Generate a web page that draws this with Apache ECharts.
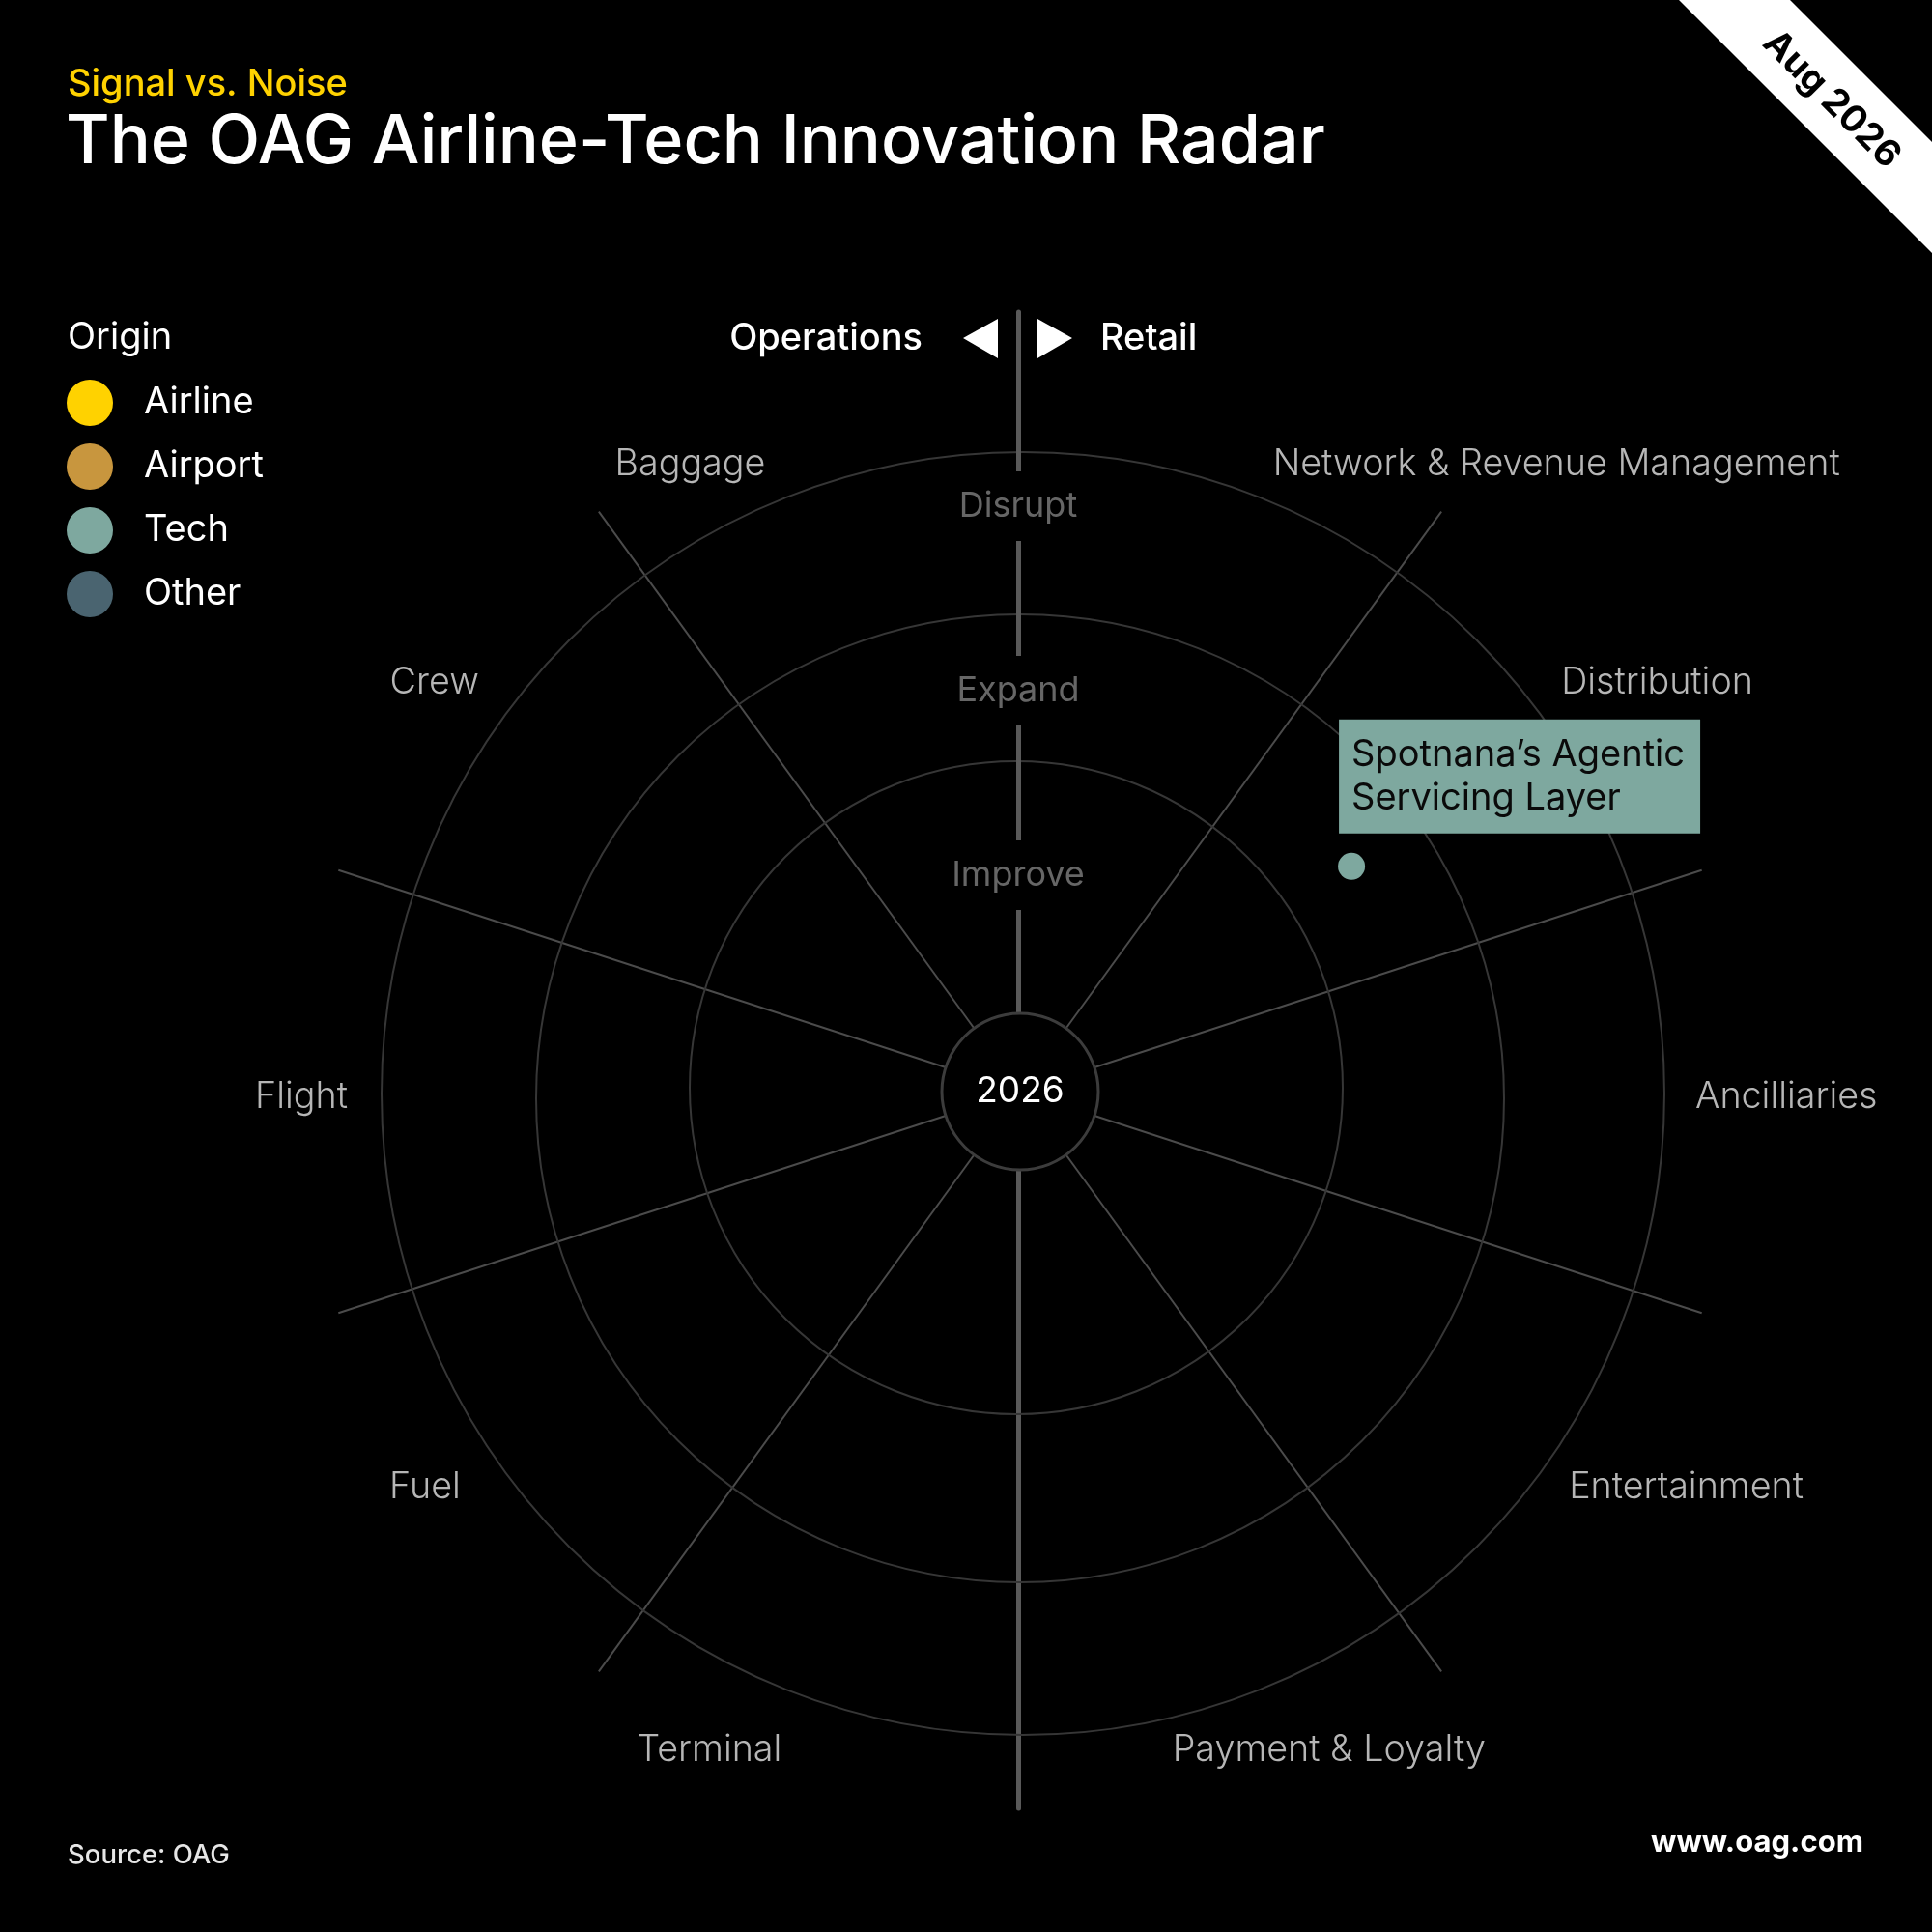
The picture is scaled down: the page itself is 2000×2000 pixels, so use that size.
<!DOCTYPE html>
<html><head><meta charset="utf-8">
<script src="https://cdn.jsdelivr.net/npm/echarts@6/dist/echarts.min.js"></script>
<style>html,body{margin:0;padding:0;background:#000;}#chart{width:2000px;height:2000px;}</style>
</head><body><div id="chart"></div>
<script>
// ---------- data ----------
const categories = ['Network & Revenue Management','Distribution','Ancilliaries','Entertainment','Payment & Loyalty','Terminal','Fuel','Flight','Crew','Baggage'];
const stageLabels = ['Improve','Expand','Disrupt'];
const origins = ['Airline','Airport','Tech','Other'];
const itemNames = ['Spotnana’s Agentic\nServicing Layer'];
const itemOrigins = ['Tech'];
const itemSectors = ['Distribution'];
const itemSectorOffsets = [0.05];
const itemRadialPositions = [50.5];
const centerYear = '2026';

// ---------- layout / style ----------
const FONT = 'Inter';
const LIGHT_FONT = "'Inter Light', Inter";
const CX = 1056, CY = 1130;
const LX = 1054;
const R_IN = 81, R_OUT = 742;
const rings = [{c:[1052,1126], r:338}, {c:[1056,1137], r:501}, {c:[1059,1132], r:664}];
const originColors = {Airline:'#FFD200', Airport:'#C8963E', Tech:'#7EA89F', Other:'#4A6470'};
const labelPad = {
  'Network & Revenue Management': [0,0,-65,37],
  'Distribution': [0,0,-27,-28],
  'Ancilliaries': [0,0,0,-28],
  'Entertainment': [-41,0,0,-20],
  'Payment & Loyalty': [-33,0,0,-67],
  'Terminal': [-33,22,0,0],
  'Fuel': [-41,-9,0,0],
  'Flight': [0,-31,0,0],
  'Crew': [0,-28,-27,0],
  'Baggage': [0,39,-65,0]
};
const middleLabels = ['Ancilliaries','Flight'];
const sectorDeg = 360 / categories.length;
const catLabelStyle = {color:'#b6b6b6', fontFamily:LIGHT_FONT, fontSize:37.7, fontWeight:300, lineHeight:46};

const chart = echarts.init(document.getElementById('chart'));

const polar = [
  {center:[CX,CY], radius:[R_IN,R_OUT]},                 // 0 sectors
  ...rings.map(g => ({center:g.c, radius:[0,g.r]})),    // 1..3 rings
  {center:[LX,CY], radius:[33,807]},                    // 4 stage line up
  {center:[LX,CY], radius:[33,742]},                    // 5 line down
  {center:[CX,CY], radius:[R_IN,R_OUT]}                 // 6 items
];

const angleAxis = [
  {
    polarIndex:0, type:'category', startAngle:90, clockwise:true, boundaryGap:true,
    data: categories.map(c => ({value:c, textStyle:{padding:labelPad[c]}})),
    axisLine:{show:false}, axisTick:{show:false, interval:0},
    splitLine:{show:true, interval:0, lineStyle:{width:2, color: categories.map((c,i) => (i===0||i===5) ? 'rgba(0,0,0,0)' : '#4b4b4b')}},
    axisLabel:Object.assign({
      show:true, interval:0, margin:-15,
      formatter: v => middleLabels.indexOf(v) >= 0 ? '{m|' + v + '}' : v,
      rich:{m:Object.assign({padding:[12,0,0,0]}, catLabelStyle)}
    }, catLabelStyle)
  },
  ...rings.map((g,i) => ({
    polarIndex:i+1, type:'value', min:0, max:1, startAngle:90,
    axisLine:{show:true, lineStyle:{color:'#363636', width:2}},
    axisTick:{show:false}, axisLabel:{show:false}, splitLine:{show:false}
  })),
  {polarIndex:4, type:'value', min:0, max:1, startAngle:90, show:false},
  {polarIndex:5, type:'value', min:0, max:1, startAngle:-90, show:false},
  {polarIndex:6, type:'value', min:0, max:360, startAngle:90, clockwise:true, show:false}
];

const radiusAxis = [
  {polarIndex:0, type:'value', min:0, max:100, show:false},
  ...rings.map((g,i) => ({polarIndex:i+1, type:'value', min:0, max:1, show:false})),
  {
    polarIndex:4, type:'value', min:0, max:4.052, interval:1, z:3,
    axisLine:{show:true, lineStyle:{color:'#595959', width:5}},
    axisTick:{show:false}, splitLine:{show:false},
    axisLabel:{
      show:true, margin:0, rotate:0, align:'center', verticalAlign:'middle',
      showMinLabel:false, showMaxLabel:false,
      formatter: v => { const s = stageLabels[Math.round(v)-1]; return (Math.abs(v-Math.round(v))<1e-6 && s) ? '{s|'+s+'}' : ''; },
      rich:{s:{color:'#666666', fontFamily:FONT, fontSize:36, lineHeight:36, backgroundColor:'#000', padding:[18,12,18,12]}}
    }
  },
  {
    polarIndex:5, type:'value', min:0, max:1,
    axisLine:{show:true, lineStyle:{color:'#595959', width:5}},
    axisTick:{show:false}, splitLine:{show:false}, axisLabel:{show:false}
  },
  {polarIndex:6, type:'value', min:0, max:100, show:false}
];

const itemSeries = origins.map(o => ({
  name:o, type:'scatter', coordinateSystem:'polar', polarIndex:6,
  symbol:'circle', symbolSize:28, silent:true, z:10,
  itemStyle:{color:originColors[o], opacity:1},
  data: itemNames.map((n,i) => ({n,i})).filter(d => itemOrigins[d.i]===o).map(d => ({
    name:d.n,
    value:[itemRadialPositions[d.i], (categories.indexOf(itemSectors[d.i]) + 0.5 + itemSectorOffsets[d.i]) * sectorDeg]
  })),
  label:{
    show:true, formatter: p => p.name, position:[1,-20], align:'left', verticalAlign:'bottom',
    backgroundColor:originColors[o], color:'#0a0a0a', fontFamily:FONT, fontSize:38, lineHeight:45,
    width:348, overflow:'none', padding:[14,13,14,13], opacity:1
  }
}));

const option = {
  backgroundColor:'#000',
  animation:false,
  title:[
    {text:'Signal vs. Noise', left:70, top:65, padding:0, textStyle:{color:'#FFD200', fontSize:38, fontWeight:500, fontFamily:FONT, lineHeight:46}},
    {text:'The OAG Airline-Tech Innovation Radar', left:68, top:107, padding:0, textStyle:{color:'#fff', fontSize:70, fontWeight:500, fontFamily:FONT, lineHeight:82}},
    {text:'Origin', left:70, top:327, padding:0, textStyle:{color:'#fff', fontSize:38, fontWeight:400, fontFamily:FONT, lineHeight:46}},
    {text:'Source: OAG', left:70, top:1904, padding:0, textStyle:{color:'#e6e6e6', fontSize:27.5, fontWeight:500, fontFamily:FONT, lineHeight:34}},
    {text:'www.oag.com', right:71, top:1889, padding:0, textStyle:{color:'#fff', fontSize:31, fontWeight:700, fontFamily:FONT, lineHeight:38}}
  ],
  legend:{
    data:origins, orient:'vertical', left:69, top:393, padding:0,
    itemWidth:48, itemHeight:48, itemGap:18, icon:'circle', selectedMode:false,
    itemStyle:{opacity:1},
    textStyle:{color:'#fff', fontSize:38, fontFamily:FONT, padding:[0,0,0,27]}
  },
  polar, angleAxis, radiusAxis,
  series:[
    ...itemSeries,
    {
      type:'pie', name:'year', center:[CX,CY], radius:[0,R_IN], silent:true, z:5,
      data:[{value:1, name:centerYear}],
      itemStyle:{color:'#000', borderColor:'#3c3c3c', borderWidth:3},
      label:{show:true, position:'center', formatter:centerYear, color:'#fff', fontSize:37, fontFamily:FONT},
      labelLine:{show:false}, emphasis:{disabled:true}
    }
  ],
  graphic:[
    {type:'text', x:955, y:351, style:{text:'Operations', align:'right', verticalAlign:'middle', fill:'#fff', fontSize:38, fontWeight:500, fontFamily:FONT}},
    {type:'polygon', shape:{points:[[997,350],[1033,330],[1033,371]]}, style:{fill:'#fff'}},
    {type:'polygon', shape:{points:[[1074,330],[1074,371],[1110,350]]}, style:{fill:'#fff'}},
    {type:'text', x:1139, y:351, style:{text:'Retail', align:'left', verticalAlign:'middle', fill:'#fff', fontSize:38, fontWeight:500, fontFamily:FONT}},
    {type:'polygon', shape:{points:[[1738,0],[1853,0],[2000,147],[2000,262]]}, style:{fill:'#fff'}},
    {type:'text', x:1896, y:103, rotation:-Math.PI/4, style:{text:'Aug 2026', align:'center', verticalAlign:'middle', fill:'#000', fontSize:38, fontWeight:700, fontFamily:FONT}}
  ]
};
chart.setOption(option);
</script>
</body></html>
